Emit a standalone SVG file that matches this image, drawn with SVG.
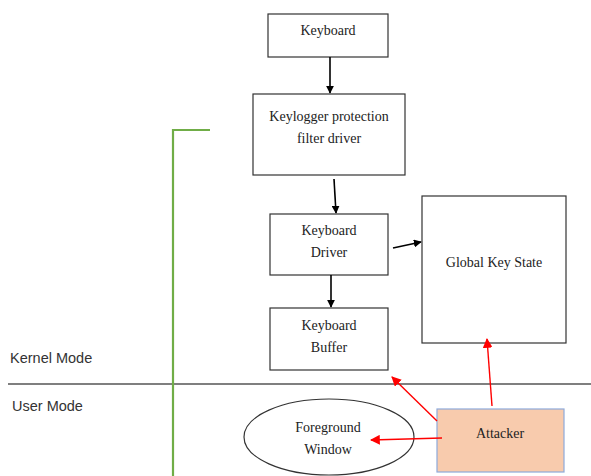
<svg xmlns="http://www.w3.org/2000/svg" width="591" height="476" viewBox="0 0 591 476">
<defs>
<marker id="ab" viewBox="0 0 10 10" refX="9" refY="5" markerWidth="5" markerHeight="5" orient="auto" markerUnits="strokeWidth"><path d="M0,0 L10,5 L0,10 z" fill="#000"/></marker>
<marker id="ar" viewBox="0 0 10 10" refX="9" refY="5" markerWidth="7" markerHeight="7" orient="auto" markerUnits="strokeWidth"><path d="M0,0 L10,5 L0,10 z" fill="#ff0000"/></marker>
</defs>
<style>
.box{fill:#fff;stroke:#333;stroke-width:1.2}
.t{font-family:"Liberation Serif",serif;font-size:14px;fill:#222;text-anchor:middle}
.m{font-family:"Liberation Sans",sans-serif;font-size:14.5px;fill:#333}
.bk{stroke:#000;stroke-width:1.6;fill:none;marker-end:url(#ab)}
.rd{stroke:#ff0000;stroke-width:1.4;fill:none;marker-end:url(#ar)}
</style>
<rect width="591" height="476" fill="#fff"/>
<g id="mode-lines">
<line x1="8" y1="384" x2="591" y2="384" stroke="#555" stroke-width="1.5"/>
<polyline points="210,130 173,130 173,476" fill="none" stroke="#70ad47" stroke-width="2.2"/>
<text class="m" x="10" y="363">Kernel Mode</text>
<text class="m" x="12" y="411">User Mode</text>
</g>
<g id="keyboard"><rect class="box" x="268" y="14" width="120" height="43"/><text class="t" x="328" y="35">Keyboard</text></g>
<g id="filter"><rect class="box" x="253" y="94" width="152" height="81"/><text class="t" x="329" y="121">Keylogger protection</text><text class="t" x="329" y="143">filter driver</text></g>
<g id="driver"><rect class="box" x="270" y="214" width="118" height="61"/><text class="t" x="329" y="235">Keyboard</text><text class="t" x="329" y="257">Driver</text></g>
<g id="buffer"><rect class="box" x="270" y="308" width="118" height="62"/><text class="t" x="329" y="330">Keyboard</text><text class="t" x="329" y="352">Buffer</text></g>
<g id="gks"><rect class="box" x="422" y="196" width="144" height="147"/><text class="t" x="494" y="267">Global Key State</text></g>
<g id="foreground"><ellipse cx="329" cy="437" rx="85" ry="38" fill="#fff" stroke="#333" stroke-width="1.2"/><text class="t" x="328" y="432">Foreground</text><text class="t" x="328" y="454">Window</text></g>
<g id="attacker"><rect x="437" y="409" width="127" height="63" fill="#f8cbad" stroke="#8eaadb" stroke-width="1.2"/><text class="t" x="500" y="438">Attacker</text></g>
<g id="connectors">
<line class="bk" x1="330" y1="57" x2="330" y2="93"/>
<line class="bk" x1="334" y1="179" x2="336" y2="213"/>
<line class="bk" x1="331" y1="275" x2="331" y2="307"/>
<line class="bk" x1="393" y1="248" x2="421" y2="242"/>
<line class="rd" x1="492" y1="406" x2="487" y2="339"/>
<line class="rd" x1="437" y1="421" x2="392" y2="377"/>
<line class="rd" x1="442" y1="438" x2="371" y2="440"/>
</g>
</svg>
